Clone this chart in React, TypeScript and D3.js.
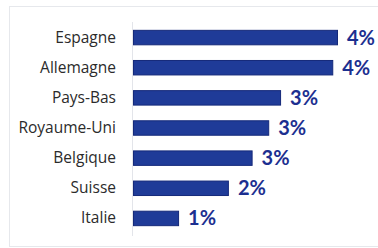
import React, { useEffect, useRef } from 'react';
import * as d3 from 'd3';

// pays et parts (arrondies à l'affichage)
const countries = ['Espagne', 'Allemagne', 'Pays-Bas', 'Royaume-Uni', 'Belgique', 'Suisse', 'Italie'];
const shares = [4.3, 4.2, 3.1, 2.85, 2.5, 2.0, 0.95];

const W = 378;
const H = 248;

const App: React.FC = () => {
  const ref = useRef<SVGSVGElement>(null);

  useEffect(() => {
    if (!ref.current) return;
    const svg = d3.select(ref.current);
    svg.selectAll('*').remove();

    const data = countries.map((c, i) => ({ name: c, value: shares[i] }));

    const y = d3.scaleBand<string>().domain(countries).range([22.5, 233.5]).paddingInner(0.52).paddingOuter(0.26);
    const x = d3
      .scaleLinear()
      .domain([0, d3.max(shares)!])
      .range([133, 337]);

    // cadre
    svg
      .append('rect')
      .attr('x', 9.5)
      .attr('y', 6.5)
      .attr('width', W + 10)
      .attr('height', 240)
      .attr('fill', '#fff')
      .attr('stroke', '#e6e8ec')
      .attr('stroke-width', 1);

    // axe vertical
    svg
      .append('line')
      .attr('x1', 132.5)
      .attr('x2', 132.5)
      .attr('y1', 22)
      .attr('y2', 236)
      .attr('stroke', '#e3e5ea');

    const rows = svg.append('g').selectAll('g').data(data).join('g');

    rows
      .append('rect')
      .attr('x', x(0) + 0.5)
      .attr('y', (d) => y(d.name)!)
      .attr('width', (d) => x(d.value) - x(0))
      .attr('height', y.bandwidth())
      .attr('fill', '#1f3b98')
      .attr('stroke', '#15297a')
      .attr('stroke-width', 1);

    rows
      .append('text')
      .attr('x', 116)
      .attr('y', (d) => y(d.name)! + y.bandwidth() / 2 + 5)
      .attr('text-anchor', 'end')
      .attr('font-family', '"Open Sans", sans-serif')
      .attr('font-size', 15.5)
      .attr('fill', '#2b2b2b')
      .text((d) => d.name);

    rows
      .append('text')
      .attr('x', (d) => x(d.value) + 10)
      .attr('y', (d) => y(d.name)! + y.bandwidth() / 2 + 7)
      .attr('font-family', 'Lato, sans-serif')
      .attr('font-weight', 'bold')
      .attr('font-size', 20)
      .attr('fill', '#1c2f90')
      .text((d) => Math.round(d.value) + '%');
  }, []);

  return (
    <svg
      ref={ref}
      width={W}
      height={H}
      style={{ position: 'absolute', left: 0, top: 0, display: 'block', background: '#fff' }}
    />
  );
};

export default App;
